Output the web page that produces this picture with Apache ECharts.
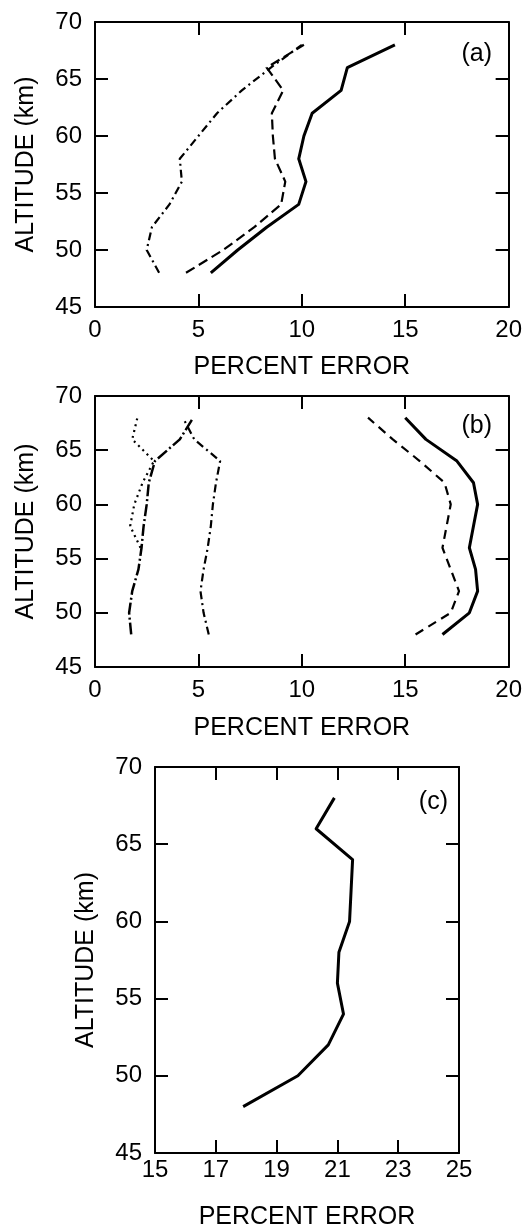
<!DOCTYPE html>
<html lang="en">
<head>
  <meta charset="UTF-8">
  <title>Percent error vs altitude</title>
  <script src="https://cdn.jsdelivr.net/npm/echarts@6/dist/echarts.min.js"></script>
  <style>
    html, body { margin: 0; padding: 0; background: #fff; }
  </style>
</head>
<body>
<div id="main" style="width:525px;height:1231px"></div>
<script>
  // altitude grid (km) shared by most profiles
  var altitudes = [48, 50, 52, 54, 56, 58, 60, 62, 64, 66, 68];

  // panel (a)
  var aSolid   = [5.6, 6.9, 8.3, 9.85, 10.2, 9.85, 10.1, 10.5, 11.9, 12.2, 14.5];
  var aDashed  = [4.4, 6.2, 7.7, 9.0, 9.2, 8.7, 8.6, 8.55, 9.1, 8.3, 10.1];
  var aDashDot = [3.1, 2.5, 2.75, 3.6, 4.2, 4.1, 5.0, 5.9, 7.1, 8.5, 10.0];

  // panel (b)
  var bSolid    = [16.8, 18.1, 18.5, 18.4, 18.1, 18.3, 18.5, 18.3, 17.5, 16.0, 15.0];
  var bDashed   = [15.5, 17.2, 17.6, 17.2, 16.8, 17.0, 17.2, 16.9, 15.7, 14.4, 13.2];
  var bDashDot  = [5.5, 5.25, 5.1, 5.25, 5.45, 5.6, 5.7, 5.85, 6.05, 4.8, 4.25];
  var bDashDot2 = [1.75, 1.65, 1.8, 2.1, 2.25, 2.35, 2.5, 2.6, 2.9, 4.1, 4.75];
  var bDottedAlt = [56, 58, 60, 62, 64, 66, 68];
  var bDotted    = [2.2, 1.7, 1.9, 2.3, 2.85, 1.8, 2.05];

  // panel (c)
  var cSolid = [17.9, 19.7, 20.7, 21.2, 21.0, 21.05, 21.4, 21.45, 21.5, 20.3, 20.9];

  // axis ticks
  var altTicks = [45, 50, 55, 60, 65, 70];
  var errTicksAB = [0, 5, 10, 15, 20];
  var errTicksC = [15, 17, 19, 21, 23, 25];

  var FONT = "'Liberation Sans', Arial, Helvetica, sans-serif";

  function pairs(xs, hs) {
    return hs.map(function (h, i) { return [xs[i], h]; });
  }

  var chart = echarts.init(document.getElementById('main'));

  var grids = [
    {left: 95, top: 22, width: 415, height: 285},
    {left: 95, top: 396, width: 414, height: 271},
    {left: 155, top: 767, width: 304, height: 388}
  ];
  var xTicks = [errTicksAB, errTicksAB, errTicksC];
  var xNameGap = [48, 49, 52];
  var xLabelMargin = [11, 11, 5];

  var xAxes = [], yAxes = [];
  grids.forEach(function (g, gi) {
    var xt = xTicks[gi];
    var common = {
      type: 'value', gridIndex: gi, splitLine: {show: false},
      axisLine: {show: true, onZero: false, lineStyle: {color: '#000', width: 2}},
      axisTick: {show: true, inside: true, length: 13, lineStyle: {color: '#000', width: 2}}
    };
    xAxes.push(Object.assign({}, common, {
      position: 'bottom', min: xt[0], max: xt[xt.length - 1], interval: xt[1] - xt[0],
      name: 'PERCENT ERROR', nameLocation: 'middle', nameGap: xNameGap[gi],
      nameTextStyle: {fontFamily: FONT, fontSize: 25, color: '#000'},
      axisLabel: {fontFamily: FONT, fontSize: 24, color: '#000', margin: xLabelMargin[gi]}
    }));
    xAxes.push(Object.assign({}, common, {
      position: 'top', min: xt[0], max: xt[xt.length - 1], interval: xt[1] - xt[0],
      axisLabel: {show: false}
    }));
    yAxes.push(Object.assign({}, common, {
      position: 'left', min: altTicks[0], max: altTicks[altTicks.length - 1], interval: 5,
      name: 'ALTITUDE (km)', nameLocation: 'middle', nameGap: 56,
      nameTextStyle: {fontFamily: FONT, fontSize: 25, color: '#000'},
      axisLabel: {fontFamily: FONT, fontSize: 24, color: '#000', margin: 13}
    }));
    yAxes.push(Object.assign({}, common, {
      position: 'right', min: altTicks[0], max: altTicks[altTicks.length - 1], interval: 5,
      axisLabel: {show: false}
    }));
  });

  function line(gi, data, width, dash) {
    return {
      type: 'line', xAxisIndex: gi * 2, yAxisIndex: gi * 2, data: data,
      showSymbol: false, symbol: 'none', smooth: false, silent: true,
      lineStyle: {color: '#000', width: width, type: dash || 'solid', cap: 'butt', join: 'round'}
    };
  }

  chart.setOption({
    animation: false,
    backgroundColor: '#fff',
    grid: grids,
    xAxis: xAxes,
    yAxis: yAxes,
    series: [
      line(0, pairs(aSolid, altitudes), 3),
      line(0, pairs(aDashed, altitudes), 2.2, [10, 5]),
      line(0, pairs(aDashDot, altitudes), 2.2, [8, 4, 2, 4]),
      line(1, pairs(bSolid, altitudes), 3),
      line(1, pairs(bDashed, altitudes), 2.2, [9, 6]),
      line(1, pairs(bDashDot, altitudes), 2.2, [8, 4, 2, 4]),
      line(1, pairs(bDashDot2, altitudes), 2.5, [12, 3, 2, 3]),
      line(1, pairs(bDotted, bDottedAlt), 2.2, [2, 4]),
      line(2, pairs(cSolid, altitudes), 3)
    ],
    graphic: [
      {type: 'text', right: 33, top: 42, style: {text: '(a)', font: '25px ' + FONT, fill: '#000'}},
      {type: 'text', right: 33, top: 414, style: {text: '(b)', font: '25px ' + FONT, fill: '#000'}},
      {type: 'text', right: 77, top: 790, style: {text: '(c)', font: '25px ' + FONT, fill: '#000'}}
    ]
  });
</script>
</body>
</html>
